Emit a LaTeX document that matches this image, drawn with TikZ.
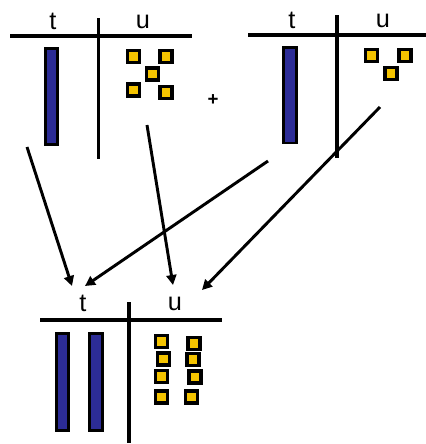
\documentclass[tikz,border=0pt]{standalone}
\usepackage{fontspec}
\setmainfont{Liberation Sans}
\usetikzlibrary{arrows.meta}
\definecolor{tenblue}{RGB}{44,44,150}
\definecolor{oneyellow}{RGB}{245,196,0}
\tikzset{
  rule/.style={line width=2.3pt},
  ten/.style={draw=black,line width=1.6pt,fill=tenblue},
  one/.style={draw=black,line width=2.8pt,fill=oneyellow,minimum size=9pt,inner sep=0pt},
  head/.style={font=\fontsize{19}{20}\selectfont,inner sep=0pt,anchor=base},
  move/.style={line width=2.2pt,-{Triangle[length=7.5pt,width=7.5pt]}}
}
\begin{document}
\begin{tikzpicture}[x=0.75pt,y=-0.75pt]
\useasboundingbox (0,0) rectangle (426,444);
% first number: 1 ten, 5 units
\draw[rule] (10,36) -- (192,36);
\draw[rule] (98.5,18) -- (98.5,159);
\node[head] (t1) at (53,29) {t};
\node[head] (u1) at (143,28) {u};
\draw[ten] (45.5,48.5) rectangle (57.5,144.5);
\node[one] (a1) at (133.5,56.5) {};
\node[one] (a2) at (166,56.5) {};
\node[one] (a3) at (152.5,74) {};
\node[one] (a4) at (133.5,90) {};
\node[one] (a5) at (166,92.5) {};
\node[font=\bfseries\fontsize{14}{14}\selectfont,inner sep=0pt] (plus) at (213,100) {+};
% second number: 1 ten, 3 units
\draw[rule] (248,35) -- (427,35);
\draw[rule] (337,15) -- (337,158);
\node[head] (t2) at (292,28) {t};
\node[head] (u2) at (383,27) {u};
\draw[ten] (283.5,47.5) rectangle (296.5,143);
\node[one] (b1) at (371.5,55.5) {};
\node[one] (b2) at (405,55.5) {};
\node[one] (b3) at (391,73.5) {};
% sum: 2 tens, 8 units
\draw[rule] (40,320) -- (222,320);
\draw[rule] (129,302) -- (129,443);
\node[head] (t3) at (83,311) {t};
\node[head] (u3) at (175,310) {u};
\draw[ten] (56.5,333.5) rectangle (68.5,430.5);
\draw[ten] (89.5,333.5) rectangle (102.5,430.5);
\node[one] (c1) at (161.5,341.5) {};
\node[one] (c2) at (194,343.5) {};
\node[one] (c3) at (163.5,359) {};
\node[one] (c4) at (193,359.5) {};
\node[one] (c5) at (161.5,376.5) {};
\node[one] (c6) at (195,377) {};
\node[one] (c7) at (161.5,397) {};
\node[one] (c8) at (191.5,397) {};
% regrouping arrows
\coordinate (s1) at (27,147);
\coordinate (s2) at (268,161);
\coordinate (s3) at (147,125);
\coordinate (s4) at (380,107);
\coordinate (e1) at (72,286);
\coordinate (e2) at (85,286);
\coordinate (e3) at (173,285);
\coordinate (e4) at (202,290);
\draw[move] (s1) -- (e1);
\draw[move] (s2) -- (e2);
\draw[move] (s3) -- (e3);
\draw[move] (s4) -- (e4);
\end{tikzpicture}
\end{document}
